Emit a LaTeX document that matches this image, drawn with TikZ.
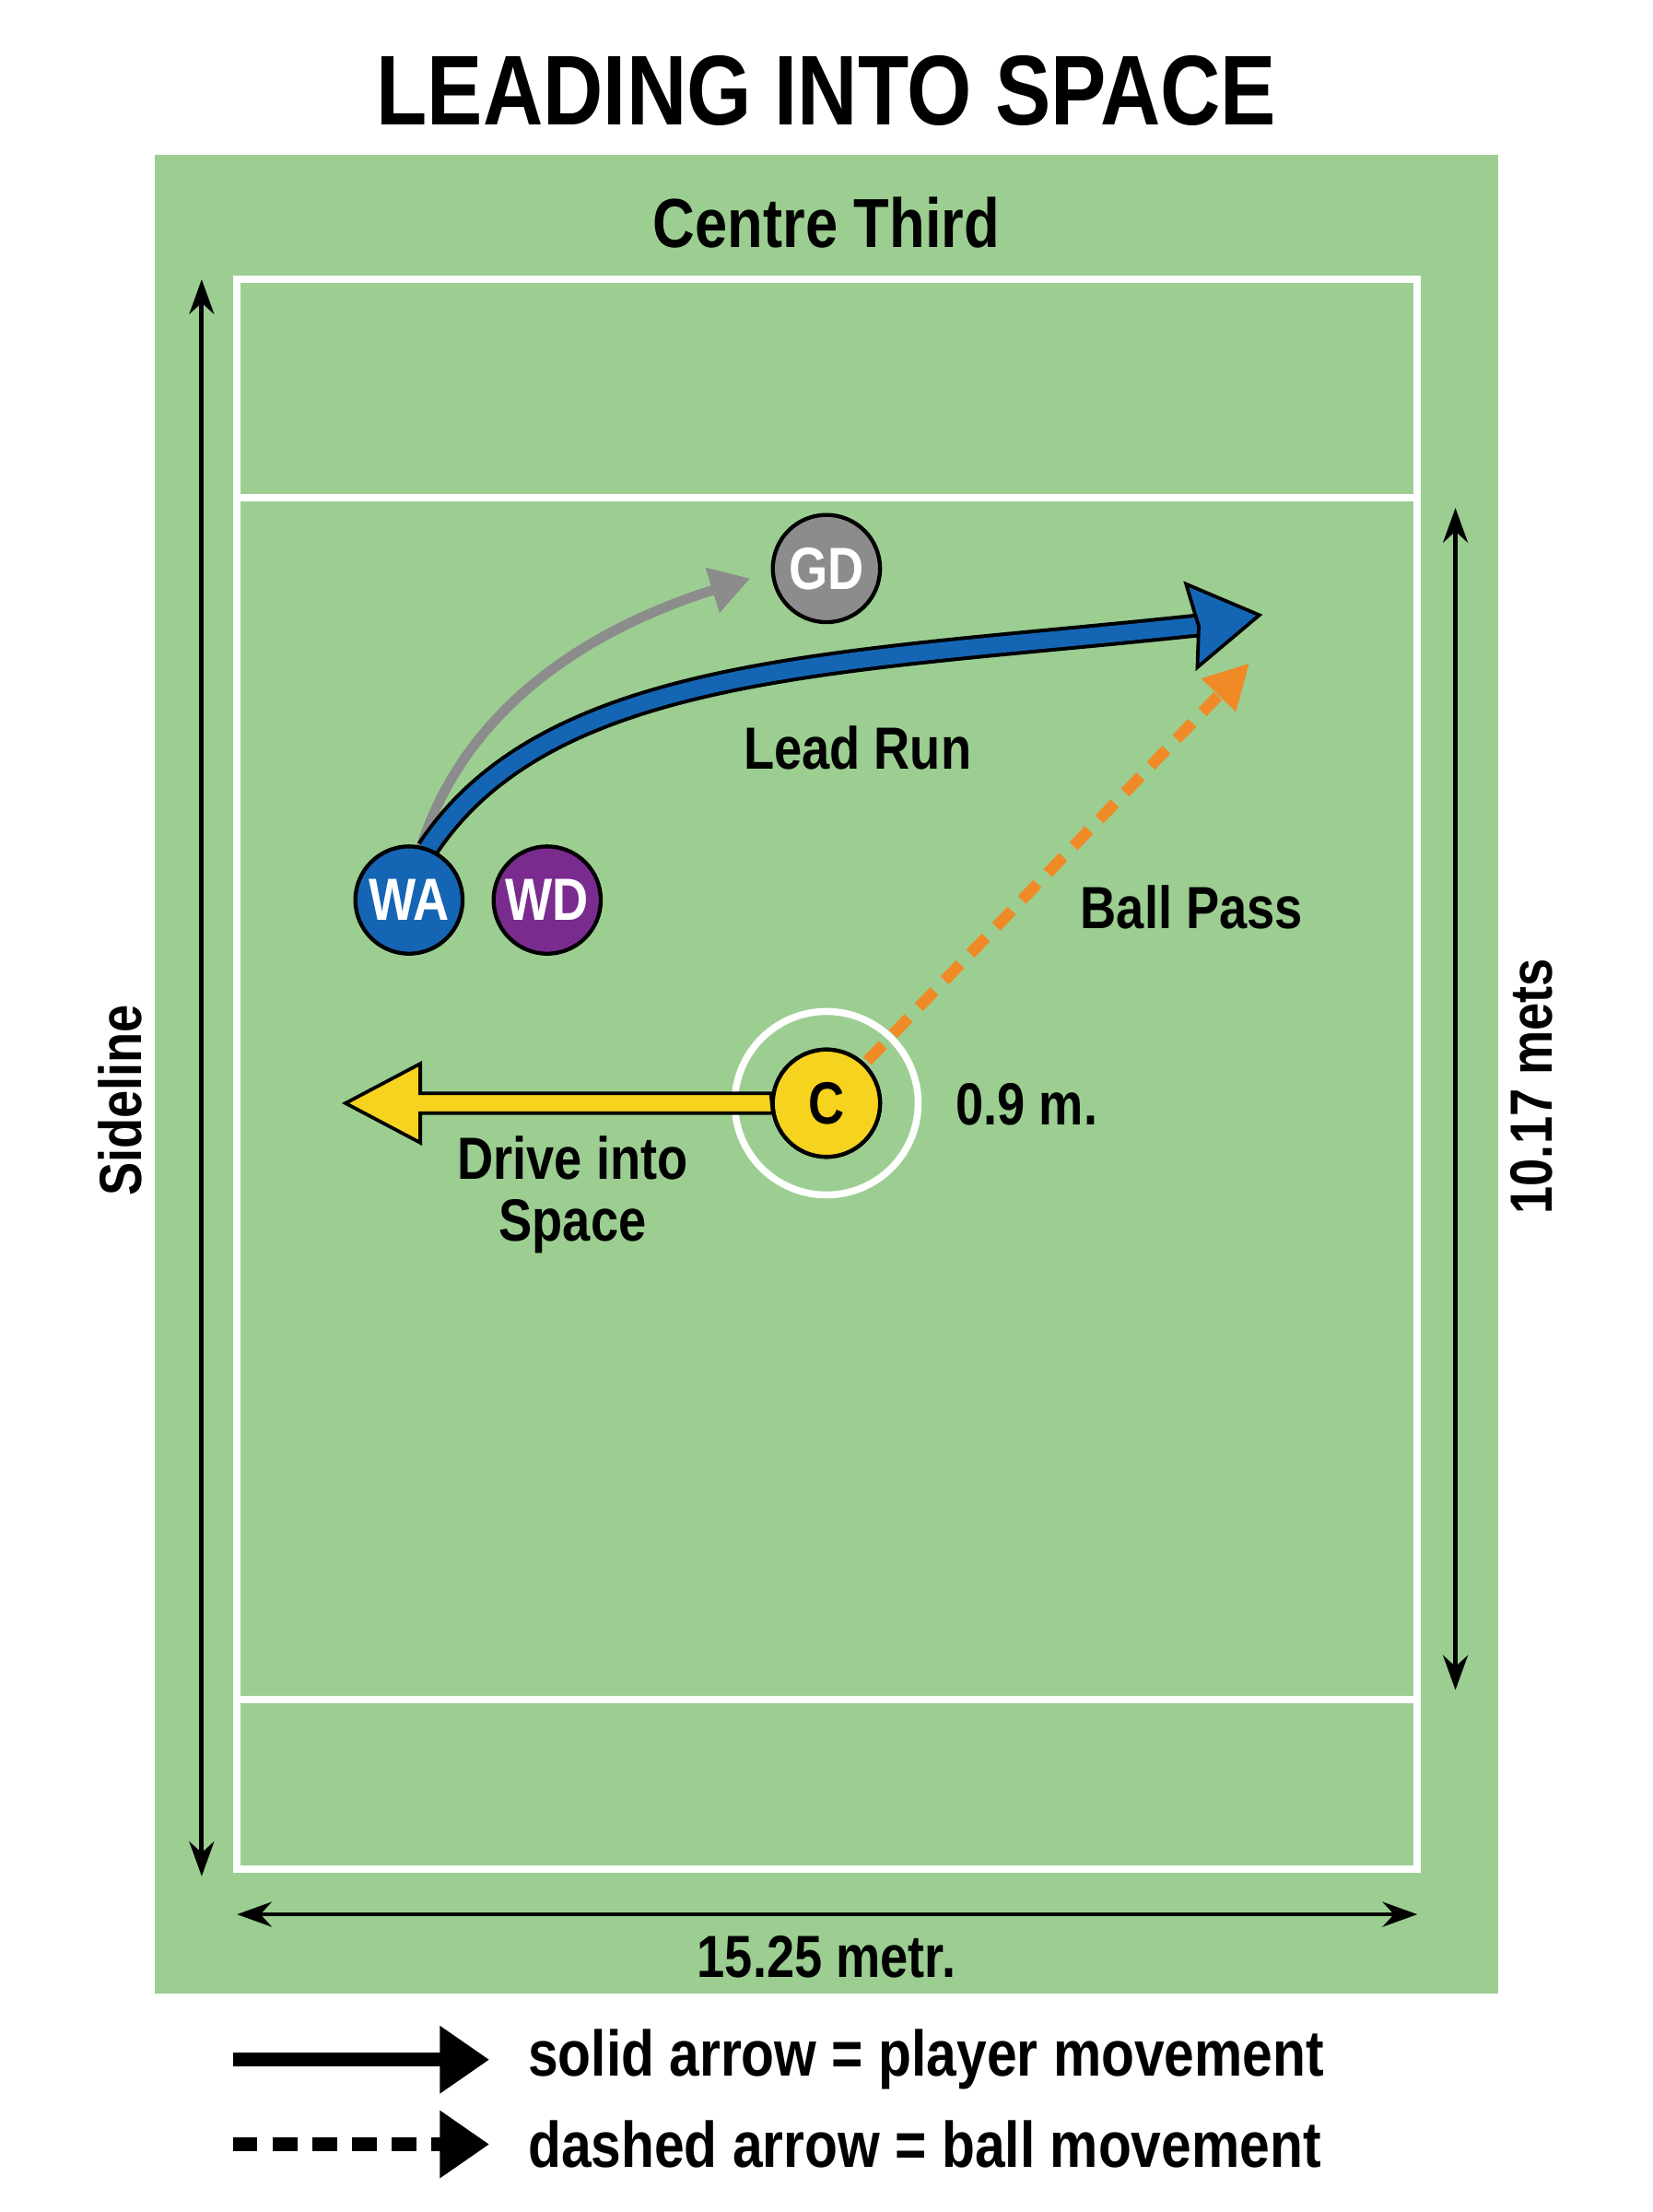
\documentclass[tikz,border=0pt]{standalone}
\usepackage{fontspec}
\setmainfont{Liberation Sans}[FakeStretch=0.84]
\usetikzlibrary{arrows.meta}
\definecolor{grass}{HTML}{9CCE92}
\definecolor{wablue}{HTML}{1565B5}
\definecolor{wdpurple}{HTML}{7A2B8E}
\definecolor{gdgray}{HTML}{8C8C8C}
\definecolor{cyellow}{HTML}{F6D31E}
\definecolor{passorange}{HTML}{F08A26}
\begin{document}
\begin{tikzpicture}[x=0.01cm,y=-0.01cm,
  lbl/.style={font=\bfseries\fontsize{12}{14}\selectfont},
  player/.style={circle,draw=black,line width=0.8pt,minimum size=76*0.2845pt,inner sep=0pt,text=white,font=\bfseries\fontsize{12}{14}\selectfont},
  courtline/.style={draw=white,line width=1.5pt},
  dim/.style={line width=0.9pt,{Stealth[length=7pt,width=5pt]}-{Stealth[length=7pt,width=5pt]}}]
\useasboundingbox (0,0) rectangle (1172,1568);
\fill[white] (0,0) rectangle (1172,1568);
\node[font=\bfseries\fontsize{20}{24}\selectfont] (title) at (586,64) {LEADING INTO SPACE};
\fill[grass] (110,110) rectangle (1062,1413);
\draw[courtline] (168,198) rectangle (1005,1325);
\draw[courtline] (168,353) -- (1005,353);
\draw[courtline] (168,1205) -- (1005,1205);
\node[lbl,font=\bfseries\fontsize{14}{16}\selectfont] (ct) at (586,158) {Centre Third};
% dimensions
\coordinate (sl1) at (143,198); \coordinate (sl2) at (143,1330);
\draw[dim] (sl1) -- (sl2);
\node[lbl,rotate=90] (side) at (85,780) {Sideline};
\coordinate (r1) at (1032,360); \coordinate (r2) at (1032,1198);
\draw[dim] (r1) -- (r2);
\node[lbl,rotate=90] (mets) at (1086,770) {10.17 mets};
\coordinate (b1) at (168,1357); \coordinate (b2) at (1005,1357);
\draw[dim] (b1) -- (b2);
\node[lbl] (metr) at (586,1387) {15.25 metr.};
% players
\node[draw=white,line width=1.4pt,circle,minimum size=130*0.2845pt] (ring) at (586,782) {};
% gray arrow
\coordinate (gtip) at (532,410);
\draw[gdgray,line width=2pt,-{Triangle[length=8pt,width=9pt]}] (298,602) .. controls (330,500) and (420,445) .. (gtip);
% blue arrow
\draw[black,line width=4.8pt] (303,602) .. controls (390,470) and (600,470) .. (852,443);
\draw[wablue,line width=3.3pt] (303,602) .. controls (390,470) and (600,470) .. (852,443);
\coordinate (btip) at (893,436);
\filldraw[fill=wablue,draw=black,line width=0.7pt] (btip) -- (841,414) -- (850,444) -- (849,473) -- cycle;
\node[lbl] (lead) at (608,530) {Lead Run};
% ball pass
\node[player,fill=cyellow,text=black] (C) at (586,782) {C};
\coordinate (ptip) at (886,470);
\draw[passorange,line width=2.3pt,dash pattern=on 4.5pt off 3pt,-{Triangle[length=9pt,width=9pt]}] (615,752) -- (ptip);
\node[lbl] (ball) at (845,643) {Ball Pass};
% drive
\filldraw[fill=cyellow,draw=black,line width=0.7pt] (C.west) ++(0,-7) -- (298,775) -- (298,754) -- (245,782) -- (298,810) -- (298,789) -- ++(250,0) -- cycle;
\node[player,fill=cyellow,text=black] at (586,782) {C};
\node[lbl,align=center,font=\bfseries\fontsize{12}{12.5}\selectfont] (drive) at (406,847) {Drive into\\Space};
\node[lbl] (dist) at (728,783) {0.9 m.};
\node[player,fill=gdgray] (GD) at (586,403) {GD};
\node[player,fill=wablue] (WA) at (290,638) {WA};
\node[player,fill=wdpurple] (WD) at (388,638) {WD};
% legend
\coordinate (l1s) at (165,1460); \coordinate (l1e) at (347,1460);
\draw[line width=2.8pt,-{Triangle[length=10pt,width=13pt]}] (l1s) -- (l1e);
\coordinate (l2s) at (165,1520); \coordinate (l2e) at (347,1520);
\draw[line width=2.8pt,dash pattern=on 5pt off 3pt,-{Triangle[length=10pt,width=13pt]}] (l2s) -- (l2e);
\node[lbl,anchor=west,font=\bfseries\fontsize{13}{15}\selectfont] (leg1) at (362,1460) {solid arrow = player movement};
\node[lbl,anchor=west,font=\bfseries\fontsize{13}{15}\selectfont] (leg2) at (362,1520) {dashed arrow = ball movement};
\end{tikzpicture}
\end{document}
